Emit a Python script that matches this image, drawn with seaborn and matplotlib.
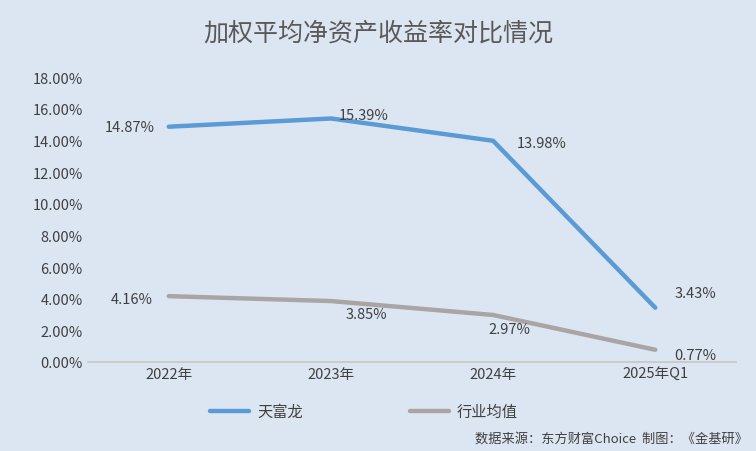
import matplotlib
matplotlib.use("Agg")
import matplotlib.pyplot as plt
import seaborn as sns
import pandas as pd

categories = ["2022年", "2023年", "2024年", "2025年Q1"]
tfl = [14.87, 15.39, 13.98, 3.43]
industry = [4.16, 3.85, 2.97, 0.77]
yticks = [0, 2, 4, 6, 8, 10, 12, 14, 16, 18]

sns.set_theme(style="white")
plt.rcParams['font.family'] = ['Noto Sans CJK SC', 'DejaVu Sans']

bg = "#dce6f2"
fig = plt.figure(figsize=(7.56, 4.52), dpi=100, facecolor=bg)
ax = fig.add_axes([0.116, 0.197, 0.858, 0.63], facecolor=bg)

df = pd.DataFrame({"x": list(range(4)) * 2, "y": tfl + industry,
                   "s": ["天富龙"] * 4 + ["行业均值"] * 4})
sns.lineplot(data=df, x="x", y="y", hue="s", palette=["#5b9bd5", "#aaa5a5"],
             linewidth=3.2, ax=ax, legend=False)

ax.set_xlim(-0.5, 3.5)
ax.set_ylim(0, 18)
ax.set_yticks(yticks)
ax.set_yticklabels([f"{v:.2f}%" for v in yticks], fontsize=10.5, color="#404040")
ax.set_xticks(range(4))
ax.set_xticklabels(categories, fontsize=10.5, color="#404040")
ax.set_xlabel(""); ax.set_ylabel("")
for s in ["top", "right", "left"]:
    ax.spines[s].set_visible(False)
ax.spines["bottom"].set_color("#c8c8c8")
ax.tick_params(length=0)

lab = dict(fontsize=10.5, color="#404040")
offs_t = [(-0.24, 0, "center"), (0.2, 0.2, "center"), (0.3, -0.15, "center"), (0.25, 0.95, "center")]
offs_i = [(-0.23, -0.2, "center"), (0.22, -0.85, "center"), (0.1, -0.9, "center"), (0.25, -0.35, "center")]
for i, v in enumerate(tfl):
    dx, dy, ha = offs_t[i]
    ax.text(i + dx, v + dy, f"{v:.2f}%", ha=ha, va="center", **lab)
for i, v in enumerate(industry):
    dx, dy, ha = offs_i[i]
    ax.text(i + dx, v + dy, f"{v:.2f}%", ha=ha, va="center", **lab)

fig.text(0.5, 0.925, "加权平均净资产收益率对比情况", ha="center", va="center",
         fontsize=18, color="#595959")

from matplotlib.lines import Line2D
fig.add_artist(Line2D([0.278, 0.33], [0.088, 0.088], color="#5b9bd5", lw=3.2))
fig.text(0.34, 0.088, "天富龙", va="center", fontsize=11, color="#404040")
fig.add_artist(Line2D([0.542, 0.594], [0.088, 0.088], color="#aaa5a5", lw=3.2))
fig.text(0.604, 0.088, "行业均值", va="center", fontsize=11, color="#404040")
fig.text(0.99, 0.028, "数据来源：东方财富Choice  制图：《金基研》", ha="right",
         va="center", fontsize=9.5, color="#404040")

fig.savefig("out.png", dpi=100, facecolor=bg)
